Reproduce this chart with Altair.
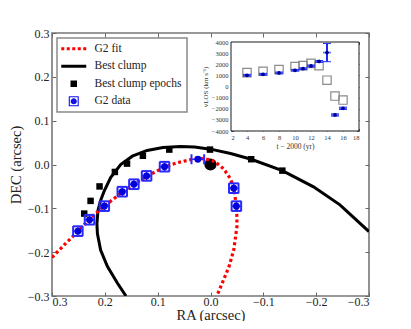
import altair as alt
import pandas as pd

SERIF = "Liberation Serif"

# ---------------- main panel data ----------------
ra_ticks = [0.3, 0.2, 0.1, 0.0, -0.1, -0.2, -0.3]
dec_ticks = [-0.3, -0.2, -0.1, 0.0, 0.1, 0.2, 0.3]
ra_lim = [-0.3, 0.3]
dec_lim = [-0.3, 0.3]

# G2 orbit fit (red dotted)
fit_ra = [0.300, 0.274, 0.252, 0.228, 0.201, 0.167, 0.145, 0.121, 0.100, 0.087, 0.063,
          0.038, 0.019, 0.003, -0.009, -0.025, -0.038, -0.044, -0.049, -0.050, -0.050,
          -0.044, -0.035, -0.022, -0.012]
fit_dec = [-0.212, -0.180, -0.154, -0.123, -0.095, -0.063, -0.045, -0.027, -0.014, -0.006, 0.004,
           0.011, 0.014, 0.011, 0.006, -0.010, -0.033, -0.054, -0.095, -0.120, -0.142,
           -0.195, -0.233, -0.271, -0.300]

# Best clump orbit (black solid)
clump_ra = [0.160, 0.176, 0.195, 0.208, 0.214, 0.215, 0.213, 0.208, 0.201, 0.189, 0.170,
            0.148, 0.120, 0.090, 0.057, 0.030, 0.000, -0.038, -0.077, -0.136, -0.195,
            -0.245, -0.300]
clump_dec = [-0.300, -0.271, -0.233, -0.195, -0.158, -0.135, -0.105, -0.082, -0.060, -0.030, 0.000,
             0.019, 0.032, 0.039, 0.041, 0.040, 0.035, 0.025, 0.012, -0.014, -0.051,
             -0.092, -0.153]

# Best clump epochs (black squares)
epoch_ra = [0.239, 0.227, 0.210, 0.181, 0.158, 0.128, 0.078, 0.001, -0.077, -0.136]
epoch_dec = [-0.112, -0.083, -0.050, -0.017, 0.002, 0.020, 0.034, 0.034, 0.012, -0.014]

# G2 data (blue)
g2_ra = [0.251, 0.229, 0.201, 0.167, 0.145, 0.121, 0.087, 0.024, -0.044, -0.049]
g2_dec = [-0.152, -0.126, -0.095, -0.062, -0.045, -0.026, -0.005, 0.012, -0.054, -0.095]
g2_ra_err = [0.009, 0.009, 0.009, 0.009, 0.009, 0.009, 0.009, 0.012, 0.009, 0.009]
g2_dec_err = [0.011, 0.011, 0.011, 0.011, 0.011, 0.011, 0.011, 0.0, 0.011, 0.011]

# Sgr A*
sgra_ra = [0.0]
sgra_dec = [0.0]

# legend
series = ["G2 fit", "Best clump", "Best clump epochs", "G2 data"]
series_colors = ["#ff0000", "#000000", "#000000", "#1010e8"]

# ---------------- inset data ----------------
t_ticks = [2, 4, 6, 8, 10, 12, 14, 16, 18]
v_ticks = [-4000, -3000, -2000, -1000, 0, 1000, 2000, 3000, 4000]
t_lim = [2, 18]
v_lim = [-4000, 4000]
t_epochs = [4, 6, 8, 10, 11, 12, 13, 14, 15, 16]
v_model = [1250, 1370, 1520, 1790, 1875, 2080, 1875, 570, -860, -1220]
v_obs = [1010, 1100, 1220, 1460, 1600, 1850, 2250, 3050, -2560, -1960]
v_obs_err = [80, 80, 80, 80, 80, 80, 80, 820, 100, 100]
t_err = [0.5, 0.5, 0.5, 0.5, 0.5, 0.5, 0.5, 0.5, 0.5, 0.5]

# ---------------- layout constants ----------------
W, H = 317, 263
INSET_XR = [179, 307]
INSET_YR = [98, 9]
TICK_COL = "#666666"
LEG_EDGE = "#8a8a8a"
LEG_FILL = "#ffffff"

fit_df = pd.DataFrame({"ra": fit_ra, "dec": fit_dec, "i": range(len(fit_ra))})
clump_df = pd.DataFrame({"ra": clump_ra, "dec": clump_dec, "i": range(len(clump_ra))})
epoch_df = pd.DataFrame({"ra": epoch_ra, "dec": epoch_dec})
g2_df = pd.DataFrame({"ra": g2_ra, "dec": g2_dec, "ra_err": g2_ra_err, "dec_err": g2_dec_err})
sgra_df = pd.DataFrame({"ra": sgra_ra, "dec": sgra_dec})
leg_df = pd.DataFrame({"series": series, "ra": [float("nan")] * 4, "dec": [float("nan")] * 4})
frame_df = pd.DataFrame({"t": [t_lim[0]], "t2": [t_lim[1]], "v": [v_lim[0]], "v2": [v_lim[1]]})
vel_df = pd.DataFrame({"t": t_epochs, "vm": v_model, "vo": v_obs, "ve": v_obs_err, "te": t_err})


def tick_axis(orient, offset, values, size=4):
    return alt.Axis(orient=orient, offset=offset, values=values, labels=False, title="",
                    tickSize=size, tickColor=TICK_COL, tickWidth=1, domain=False, grid=False)


# main axes
main_x_lab = alt.Axis(orient="bottom", values=ra_ticks, format=".1f", title="RA (arcsec)",
                      tickSize=0, labelPadding=0, domain=False, grid=False,
                      labelFont=SERIF, labelFontSize=12, labelColor="#222",
                      titleFont=SERIF, titleFontSize=14.5, titleFontWeight="normal",
                      titleColor="#222", titleBaseline="alphabetic", titleY=23)
main_y_lab = alt.Axis(orient="left", values=dec_ticks, format=".1f", title="DEC (arcsec)",
                      tickSize=0, labelPadding=3, domain=False, grid=False,
                      labelFont=SERIF, labelFontSize=12, labelColor="#222",
                      titleFont=SERIF, titleFontSize=14.5, titleFontWeight="normal",
                      titleColor="#222", titleBaseline="alphabetic", titleX=-32)
main_axes = [
    (main_x_lab, main_y_lab),
    (tick_axis("top", -H, ra_ticks), tick_axis("right", -W, dec_ticks)),
    (tick_axis("bottom", -H, ra_ticks), tick_axis("left", -W, dec_ticks)),
]


def mx(axis=None):
    return alt.X("ra:Q", scale=alt.Scale(domain=ra_lim, reverse=True, nice=False, zero=False),
                 axis=axis)


def my(axis=None, field="dec:Q"):
    return alt.Y(field, scale=alt.Scale(domain=dec_lim, nice=False, zero=False), axis=axis)


l_clump = alt.Chart(clump_df).mark_line(color="black", strokeWidth=3, clip=True).encode(
    x=mx(main_axes[0][0]), y=my(main_axes[0][1]), order="i:Q")
l_epoch = alt.Chart(epoch_df).mark_point(shape="square", filled=True, color="black", size=42,
                                         opacity=1).encode(
    x=mx(main_axes[1][0]), y=my(main_axes[1][1]))
l_sgra = alt.Chart(sgra_df).mark_point(shape="circle", filled=True, color="black", size=150,
                                       opacity=1).encode(
    x=mx(main_axes[2][0]), y=my(main_axes[2][1]))
l_fit = alt.Chart(fit_df).mark_line(color="#ff0000", strokeWidth=3.2, strokeDash=[3, 2.7],
                                    strokeCap="butt", clip=True).encode(
    x=mx(), y=my(), order="i:Q")

BLUE_ERR = "#2828ff"
g2_base = alt.Chart(g2_df).transform_calculate(
    ra_lo="datum.ra - datum.ra_err", ra_hi="datum.ra + datum.ra_err",
    dec_lo="datum.dec - datum.dec_err", dec_hi="datum.dec + datum.dec_err")

l_g2_xbar = g2_base.mark_rule(color=BLUE_ERR, strokeWidth=1.5).encode(
    x=alt.X("ra_lo:Q", scale=alt.Scale(domain=ra_lim, reverse=True, nice=False, zero=False), axis=None),
    x2="ra_hi:Q", y=my())
l_g2_ybar = g2_base.mark_rule(color=BLUE_ERR, strokeWidth=1.5).encode(
    x=mx(), y=my(field="dec_lo:Q"), y2="dec_hi:Q")
l_g2_xcap = g2_base.transform_fold(["ra_lo", "ra_hi"], as_=["side", "cx"]).mark_tick(
    orient="vertical", size=10, thickness=2, color=BLUE_ERR, opacity=1).encode(
    x=alt.X("cx:Q", scale=alt.Scale(domain=ra_lim, reverse=True, nice=False, zero=False), axis=None),
    y=my())
l_g2_ycap = g2_base.transform_filter("datum.dec_err > 0").transform_fold(
    ["dec_lo", "dec_hi"], as_=["side", "cy"]).mark_tick(
    orient="horizontal", size=10, thickness=2, color=BLUE_ERR, opacity=1).encode(
    x=mx(), y=my(field="cy:Q"))
l_g2_pt = alt.Chart(g2_df).mark_point(shape="circle", filled=True, color="#0000d8", size=48,
                                      opacity=1).encode(x=mx(), y=my())

sym_paths = [
    "M-2.5,-0.3H-1.9V0.3H-2.5Z M-1.4,-0.3H-0.8V0.3H-1.4Z M-0.3,-0.3H0.3V0.3H-0.3Z "
    "M0.8,-0.3H1.4V0.3H0.8Z M1.9,-0.3H2.5V0.3H1.9Z",
    "M-2.5,-0.3H2.5V0.3H-2.5Z",
    "M-0.65,-0.65H0.65V0.65H-0.65Z",
    "M-1,-1H1V1H-1Z M-0.78,-0.78V0.78H0.78V-0.78Z "
    "M-0.62,0A0.62,0.62 0 1,1 0.62,0A0.62,0.62 0 1,1 -0.62,0Z",
]
leg = alt.Legend(orient="none", legendX=5, legendY=5, title=None, fillColor=LEG_FILL,
                 strokeColor=LEG_EDGE, padding=5, labelFont=SERIF, labelFontSize=11.5,
                 labelColor="#222", symbolSize=100, rowPadding=4.5, labelOffset=15,
                 symbolOffset=6, symbolStrokeWidth=0)
l_leg = alt.Chart(leg_df).mark_point(filled=True, opacity=1).encode(
    x=mx(), y=my(),
    color=alt.Color("series:N", scale=alt.Scale(domain=series, range=series_colors), legend=leg),
    shape=alt.Shape("series:N", scale=alt.Scale(domain=series, range=sym_paths), legend=None),
)

# ---------------- inset ----------------
inset_x_lab = alt.Axis(orient="bottom", offset=-(H - INSET_YR[0]), values=t_ticks, format="d",
                       title="t − 2000 (yr)", tickSize=0, labelPadding=3, domain=False,
                       grid=False, labelFont=SERIF, labelFontSize=6.5, labelColor="#333",
                       titleFont=SERIF, titleFontSize=7.5, titleFontWeight="normal",
                       titleColor="#333", titlePadding=2)
inset_y_lab = alt.Axis(orient="left", offset=-INSET_XR[0], values=v_ticks, format="d",
                       title="vLOS (km s⁻¹)", tickSize=0, labelPadding=3, domain=False,
                       grid=False, labelFont=SERIF, labelFontSize=6.5, labelColor="#333",
                       titleFont=SERIF, titleFontSize=7, titleFontWeight="normal",
                       titleColor="#333", titlePadding=3)
inset_axes = [
    (inset_x_lab, inset_y_lab),
    (tick_axis("top", -INSET_YR[0], t_ticks, 2.5), tick_axis("right", -(W - INSET_XR[0]), v_ticks, 2.5)),
    (tick_axis("bottom", -(H - INSET_YR[1]), t_ticks, 2.5), tick_axis("left", -INSET_XR[1], v_ticks, 2.5)),
]


def ix(field="t:Q", axis=None):
    return alt.X(field, scale=alt.Scale(domain=t_lim, range=INSET_XR, nice=False, zero=False),
                 axis=axis)


def iy(field, axis=None):
    return alt.Y(field, scale=alt.Scale(domain=v_lim, range=INSET_YR, nice=False, zero=False),
                 axis=axis)


i_frame = alt.Chart(frame_df).mark_rect(fill="white", stroke="black", strokeWidth=0.9).encode(
    x=ix("t:Q", inset_axes[0][0]), x2="t2:Q", y=iy("v:Q", inset_axes[0][1]), y2="v2:Q")
i_model = alt.Chart(vel_df).mark_point(shape="square", filled=False, color="#8a8a8a", size=70,
                                       strokeWidth=1.2, opacity=1).encode(
    x=ix("t:Q", inset_axes[1][0]), y=iy("vm:Q", inset_axes[1][1]))
vel_base = alt.Chart(vel_df).transform_calculate(
    t_lo="datum.t - datum.te", t_hi="datum.t + datum.te",
    v_lo="datum.vo - datum.ve", v_hi="datum.vo + datum.ve")
i_xbar = vel_base.mark_rule(color="#5a6cff", strokeWidth=1.6).encode(
    x=ix("t_lo:Q", inset_axes[2][0]), x2="t_hi:Q", y=iy("vo:Q", inset_axes[2][1]))
i_ybar = vel_base.mark_rule(color="#1a2aff", strokeWidth=2).encode(
    x=ix(), y=iy("v_lo:Q"), y2="v_hi:Q")
i_ycap = vel_base.transform_fold(["v_lo", "v_hi"], as_=["side", "cv"]).mark_tick(
    orient="horizontal", size=8, thickness=1, color="#1a2aff", opacity=1).encode(
    x=ix(), y=iy("cv:Q"))
i_pt = alt.Chart(vel_df).mark_point(shape="circle", filled=True, color="#000090", size=14,
                                    opacity=1).encode(x=ix(), y=iy("vo:Q"))

chart = alt.layer(
    l_clump, l_epoch, l_sgra, l_fit,
    l_g2_xbar, l_g2_ybar, l_g2_xcap, l_g2_ycap, l_g2_pt, l_leg,
    i_frame, i_model, i_xbar, i_ybar, i_ycap, i_pt,
).resolve_scale(x="independent", y="independent").properties(
    width=W, height=H,
    autosize=alt.AutoSizeParams(type="none"),
    padding={"left": 44, "top": 25, "right": 34, "bottom": 25},
).configure(font=SERIF).configure_view(stroke="#777777", strokeWidth=1.6).configure_legend(
    strokeWidth=1.5, strokeColor=LEG_EDGE, fillColor=LEG_FILL, labelFont=SERIF, labelFontSize=11.5,
    labelColor="#222", padding=5, cornerRadius=0)

chart.save("out.html", embed_options={"renderer": "svg", "actions": False})
